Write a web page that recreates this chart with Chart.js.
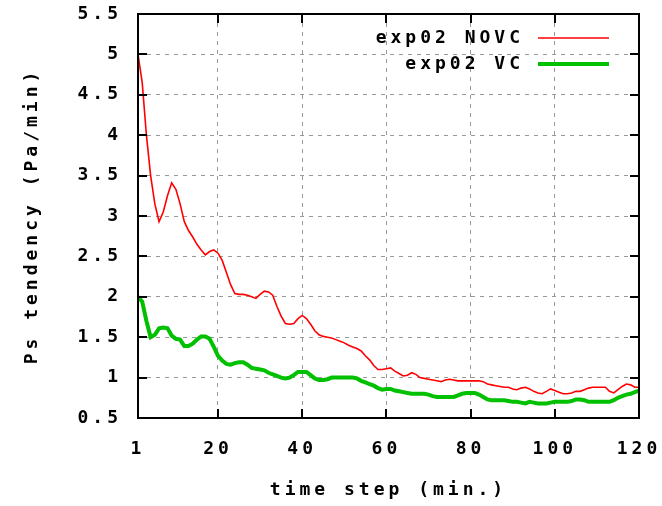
<!DOCTYPE html>
<html>
<head>
<meta charset="utf-8">
<script src="https://cdn.jsdelivr.net/npm/chart.js@4"></script>
<style>
  body { margin: 0; background: #fff; }
  canvas { display: block; }
</style>
</head>
<body>
<canvas id="grafica" width="662" height="506"></canvas>
<script>
// pasos de tiempo (min.)
const pasos = [];
for (let i = 1; i <= 120; i++) pasos.push(i);

const ticksX = [1, 20, 40, 60, 80, 100, 120];

// exp02 NOVC
const valoresNOVC = [
  5.0, 4.65, 4.0, 3.5, 3.15, 2.93, 3.05, 3.25, 3.41, 3.33,
  3.15, 2.93, 2.82, 2.74, 2.65, 2.58, 2.52, 2.56, 2.58, 2.54,
  2.45, 2.30, 2.15, 2.04, 2.03, 2.03, 2.02, 2.0, 1.98, 2.03,
  2.07, 2.06, 2.02, 1.88, 1.76, 1.67, 1.66, 1.67, 1.73, 1.77,
  1.73, 1.66, 1.58, 1.53, 1.51, 1.50, 1.49, 1.47, 1.45, 1.43,
  1.40, 1.38, 1.36, 1.33, 1.27, 1.22, 1.15, 1.10, 1.10, 1.11,
  1.12, 1.08, 1.05, 1.02, 1.03, 1.06, 1.04, 1.00, 0.99, 0.98,
  0.97, 0.96, 0.95, 0.97, 0.98, 0.97, 0.96, 0.96, 0.96, 0.96,
  0.96, 0.96, 0.95, 0.92, 0.91, 0.90, 0.89, 0.88, 0.88, 0.86,
  0.85, 0.87, 0.88, 0.86, 0.83, 0.81, 0.80, 0.83, 0.86, 0.84,
  0.82, 0.80, 0.80, 0.81, 0.83, 0.83, 0.85, 0.87, 0.88, 0.88,
  0.88, 0.88, 0.83, 0.81, 0.85, 0.89, 0.92, 0.91, 0.88, 0.88
];

// exp02 VC
const valoresVC = [
  2.0, 1.94, 1.7, 1.5, 1.53, 1.61, 1.62, 1.61, 1.52, 1.48,
  1.47, 1.39, 1.39, 1.42, 1.47, 1.51, 1.51, 1.48, 1.38, 1.27,
  1.21, 1.17, 1.16, 1.18, 1.19, 1.19, 1.16, 1.12, 1.11, 1.10,
  1.09, 1.06, 1.04, 1.02, 1.00, 0.99, 1.00, 1.03, 1.07, 1.07,
  1.07, 1.03, 0.99, 0.97, 0.97, 0.98, 1.00, 1.00, 1.00, 1.00,
  1.00, 1.00, 0.99, 0.96, 0.94, 0.92, 0.90, 0.87, 0.85, 0.86,
  0.86, 0.84, 0.83, 0.82, 0.81, 0.80, 0.80, 0.80, 0.80, 0.79,
  0.77, 0.76, 0.76, 0.76, 0.76, 0.76, 0.78, 0.80, 0.81, 0.81,
  0.81, 0.79, 0.76, 0.73, 0.72, 0.72, 0.72, 0.72, 0.71, 0.70,
  0.70, 0.69, 0.68, 0.70, 0.69, 0.68, 0.68, 0.68, 0.69, 0.70,
  0.70, 0.70, 0.70, 0.71, 0.73, 0.73, 0.72, 0.70, 0.70, 0.70,
  0.70, 0.70, 0.70, 0.72, 0.75, 0.77, 0.79, 0.80, 0.82, 0.84
];

const FUENTE = '"DejaVu Sans Mono", monospace';
const TAM = 18;
const ESPACIADO = '4px';
const LARGO_TICK = 9;

// espaciado de letras tipo gnuplot
const pluginEspaciado = {
  id: 'espaciado',
  beforeLayout(chart) { chart.ctx.letterSpacing = ESPACIADO; },
  beforeDraw(chart) {
    const ctx = chart.ctx;
    ctx.letterSpacing = ESPACIADO;
    ctx.save();
    ctx.fillStyle = '#fff';
    ctx.fillRect(0, 0, chart.width, chart.height);
    ctx.restore();
  }
};

// marco negro y marcas de tick hacia adentro (también espejadas)
const pluginMarco = {
  id: 'marco',
  afterDatasetsDraw(chart) {
    const { ctx, chartArea: a, scales } = chart;
    ctx.save();
    ctx.strokeStyle = '#000';
    ctx.lineWidth = 2;
    ctx.beginPath();
    scales.y.ticks.forEach(t => {
      const y = Math.round(scales.y.getPixelForValue(t.value));
      ctx.moveTo(a.left, y); ctx.lineTo(a.left + LARGO_TICK, y);
      ctx.moveTo(a.right, y); ctx.lineTo(a.right - LARGO_TICK, y);
    });
    scales.x.ticks.forEach(t => {
      const x = Math.round(scales.x.getPixelForValue(t.value));
      ctx.moveTo(x, a.bottom); ctx.lineTo(x, a.bottom - LARGO_TICK);
      ctx.moveTo(x, a.top); ctx.lineTo(x, a.top + LARGO_TICK);
    });
    ctx.stroke();
    ctx.strokeRect(a.left, a.top, a.right - a.left, a.bottom - a.top);
    ctx.restore();
  }
};

// leyenda: texto a la izquierda, muestra de línea a la derecha
const pluginLeyenda = {
  id: 'leyendaGnuplot',
  afterDraw(chart) {
    const ctx = chart.ctx;
    ctx.save();
    ctx.letterSpacing = ESPACIADO;
    ctx.font = 'bold ' + TAM + 'px ' + FUENTE;
    ctx.textAlign = 'right';
    ctx.textBaseline = 'middle';
    chart.data.datasets.forEach((ds, i) => {
      const y = 38 + i * 26;
      ctx.fillStyle = '#000';
      ctx.fillText(ds.label, 524, y);
      ctx.strokeStyle = ds.borderColor;
      ctx.lineWidth = ds.borderWidth;
      ctx.beginPath();
      ctx.moveTo(538, y);
      ctx.lineTo(609, y);
      ctx.stroke();
    });
    ctx.restore();
  }
};

const fuenteEjes = { family: FUENTE, size: TAM, weight: 'bold' };

const config = {
  type: 'line',
  data: {
    datasets: [
      {
        label: 'exp02 NOVC',
        data: pasos.map((p, i) => ({ x: p, y: valoresNOVC[i] })),
        borderColor: '#ff0000',
        borderWidth: 1.6,
        pointRadius: 0,
        tension: 0,
        fill: false
      },
      {
        label: 'exp02 VC',
        data: pasos.map((p, i) => ({ x: p, y: valoresVC[i] })),
        borderColor: '#00c000',
        borderWidth: 4,
        pointRadius: 0,
        tension: 0,
        fill: false
      }
    ]
  },
  options: {
    responsive: false,
    animation: false,
    layout: { padding: 0 },
    plugins: {
      legend: { display: false },
      tooltip: { enabled: false }
    },
    scales: {
      x: {
        type: 'linear',
        min: 1,
        max: 120,
        afterBuildTicks(scale) {
          scale.ticks = ticksX.map(v => ({ value: v }));
        },
        afterFit(scale) {
          scale.height = 88;
          scale.paddingRight = 23;
          scale.paddingLeft = 0;
        },
        grid: { color: '#999999', lineWidth: 1, drawTicks: false },
        border: { display: false, dash: [4, 5] },
        ticks: {
          color: '#000',
          padding: 21,
          maxRotation: 0,
          autoSkip: false,
          font: fuenteEjes
        },
        title: {
          display: true,
          text: 'time step (min.)',
          color: '#000',
          padding: { top: 0, bottom: 5 },
          font: fuenteEjes
        }
      },
      y: {
        min: 0.5,
        max: 5.5,
        ticks: {
          stepSize: 0.5,
          color: '#000',
          padding: 16,
          font: fuenteEjes,
          callback: v => String(v)
        },
        afterFit(scale) {
          scale.width = 138;
          scale.paddingTop = 14;
          scale.paddingBottom = 0;
        },
        grid: { color: '#999999', lineWidth: 1, drawTicks: false },
        border: { display: false, dash: [4, 5] },
        title: {
          display: true,
          text: 'Ps tendency (Pa/min)',
          color: '#000',
          padding: { top: 22, bottom: 0 },
          font: fuenteEjes
        }
      }
    }
  },
  plugins: [pluginEspaciado, pluginMarco, pluginLeyenda]
};

const grafica = new Chart(document.getElementById('grafica'), config);
</script>
</body>
</html>
